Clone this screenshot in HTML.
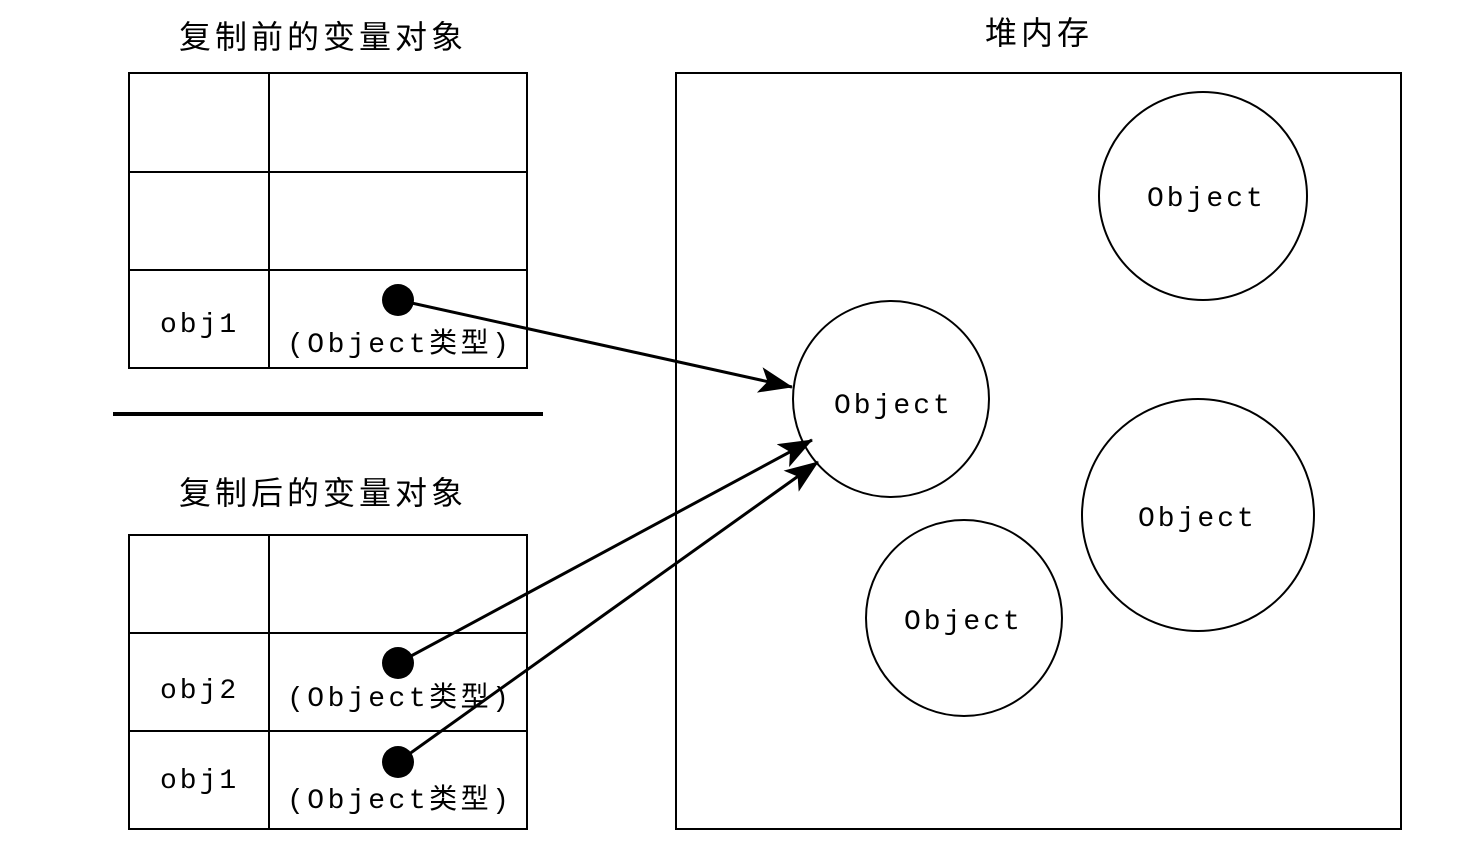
<!DOCTYPE html>
<html><head><meta charset="utf-8"><style>
html,body{margin:0;padding:0;background:#fff;}
svg{display:block;}
.t{font-family:"Liberation Sans","Noto Sans CJK SC",sans-serif;font-size:32px;fill:#000;letter-spacing:4px;}
.m{font-family:"Liberation Mono","Noto Sans CJK SC",monospace;font-size:28px;fill:#000;letter-spacing:3px;}
.p{letter-spacing:3.5px;}
</style></head><body>
<svg width="1479" height="846" viewBox="0 0 1479 846" xmlns="http://www.w3.org/2000/svg">
<defs>
<marker id="b" markerWidth="34" markerHeight="26" refX="33" refY="13" orient="auto" markerUnits="userSpaceOnUse" viewBox="0 0 34 26"><path d="M0,0 L34,13 L0,26 L8,13 z" fill="#000"/></marker></defs>
<text class="t" x="323" y="48" text-anchor="middle">复制前的变量对象</text>
<text class="t" x="1039" y="44" text-anchor="middle">堆内存</text>
<text class="t" x="323" y="504" text-anchor="middle">复制后的变量对象</text>
<g fill="none" stroke="#000" stroke-width="2">
<rect x="129" y="73" width="398" height="295"/>
<line x1="269" y1="73" x2="269" y2="368"/>
<line x1="129" y1="172" x2="527" y2="172"/>
<line x1="129" y1="270" x2="527" y2="270"/>
<rect x="129" y="535" width="398" height="294"/>
<line x1="269" y1="535" x2="269" y2="829"/>
<line x1="129" y1="633" x2="527" y2="633"/>
<line x1="129" y1="731" x2="527" y2="731"/>
<rect x="676" y="73" width="725" height="756"/>
<circle cx="1203" cy="196" r="104"/>
<circle cx="891" cy="399" r="98"/>
<circle cx="1198" cy="515" r="116"/>
<circle cx="964" cy="618" r="98"/>
</g>
<line x1="113" y1="414" x2="543" y2="414" stroke="#000" stroke-width="4"/>
<text class="m" x="160" y="332">obj1</text>
<text class="m p" x="287" y="352">(Object类型)</text>
<text class="m" x="160" y="698">obj2</text>
<text class="m p" x="287" y="706">(Object类型)</text>
<text class="m" x="160" y="788">obj1</text>
<text class="m p" x="287" y="808">(Object类型)</text>
<text class="m" x="1147" y="206">Object</text>
<text class="m" x="834" y="413">Object</text>
<text class="m" x="1138" y="526">Object</text>
<text class="m" x="904" y="629">Object</text>
<g stroke="#000" stroke-width="3" fill="none">
<line x1="398" y1="300" x2="792" y2="387" marker-end="url(#b)"/>
<line x1="398" y1="663" x2="812" y2="440" marker-end="url(#b)"/>
<line x1="398" y1="762" x2="818" y2="462" marker-end="url(#b)"/>
</g>
<circle cx="398" cy="300" r="16" fill="#000"/>
<circle cx="398" cy="663" r="16" fill="#000"/>
<circle cx="398" cy="762" r="16" fill="#000"/>
</svg>
</body></html>
